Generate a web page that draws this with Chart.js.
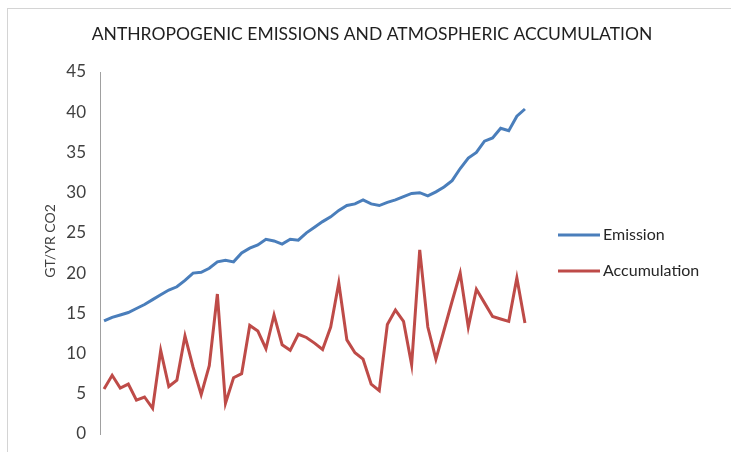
<!DOCTYPE html>
<html>
<head>
<meta charset="utf-8">
<title>Anthropogenic emissions and atmospheric accumulation</title>
<script src="https://cdn.jsdelivr.net/npm/chart.js@4"></script>
<style>
    html, body { margin: 0; padding: 0; background: #fff; }
    #wrap { position: relative; width: 731px; height: 452px; overflow: hidden; }
    #frame {
        position: absolute; left: 7px; top: 8px; width: 800px; height: 500px;
        border-left: 1px solid #d4d4d4; border-top: 1px solid #d4d4d4;
    }
    #chart { position: absolute; left: 0; top: 0; }
</style>
</head>
<body>
<div id="wrap">
    <div id="frame"></div>
    <canvas id="chart" width="731" height="452"></canvas>
</div>
<script>
// Chart data
const years = [
    1960, 1961, 1962, 1963, 1964, 1965, 1966, 1967, 1968, 1969,
    1970, 1971, 1972, 1973, 1974, 1975, 1976, 1977, 1978, 1979,
    1980, 1981, 1982, 1983, 1984, 1985, 1986, 1987, 1988, 1989,
    1990, 1991, 1992, 1993, 1994, 1995, 1996, 1997, 1998, 1999,
    2000, 2001, 2002, 2003, 2004, 2005, 2006, 2007, 2008, 2009,
    2010, 2011, 2012
];

const emission = [
    14.05, 14.5, 14.8, 15.1, 15.6, 16.1, 16.7, 17.3, 17.9, 18.3,
    19.1, 20.0, 20.1, 20.6, 21.4, 21.6, 21.4, 22.5, 23.1, 23.5,
    24.2, 24.0, 23.6, 24.2, 24.1, 25.0, 25.7, 26.4, 27.0, 27.8,
    28.4, 28.6, 29.1, 28.6, 28.4, 28.8, 29.1, 29.5, 29.9, 30.0,
    29.6, 30.1, 30.7, 31.5, 33.0, 34.3, 35.0, 36.4, 36.8, 38.0,
    37.7, 39.5, 40.4
];

const accumulation = [
    5.6, 7.3, 5.7, 6.2, 4.2, 4.6, 3.2, 10.4, 5.9, 6.7,
    12.2, 8.3, 4.9, 8.5, 17.4, 3.8, 7.0, 7.5, 13.5, 12.8,
    10.6, 14.8, 11.1, 10.4, 12.4, 12.0, 11.3, 10.5, 13.3, 18.8,
    11.7, 10.1, 9.3, 6.2, 5.4, 13.6, 15.4, 14.0, 8.6, 22.9,
    13.3, 9.3, 12.9, 16.5, 20.0, 13.3, 18.0, 16.3, 14.6, 14.3,
    14.0, 19.4, 13.8
];

const yTicks = [0, 5, 10, 15, 20, 25, 30, 35, 40, 45];

const FONT = 'Lato';
const TEXT = '#262626';

// legend and axis title, drawn next to the plot like the Excel original
const sideTextPlugin = {
    id: 'sideText',
    afterDraw: function(chart) {
        const ctx = chart.ctx;
        const area = chart.chartArea;
        const midY = (area.top + area.bottom) / 2;

        ctx.save();
        // axis title
        ctx.font = '14px ' + FONT;
        ctx.fillStyle = '#404040';
        ctx.textAlign = 'center';
        ctx.textBaseline = 'middle';
        ctx.translate(50, midY - 12);
        ctx.rotate(-Math.PI / 2);
        ctx.fillText('GT/YR CO2', 0, 0);
        ctx.restore();

        // legend
        ctx.save();
        ctx.font = '16px ' + FONT;
        ctx.textAlign = 'left';
        ctx.textBaseline = 'middle';
        const x0 = area.right + 29;
        chart.data.datasets.forEach(function(ds, i) {
            const y = midY - 18 + i * 36;
            ctx.strokeStyle = ds.borderColor;
            ctx.lineWidth = ds.borderWidth;
            ctx.beginPath();
            ctx.moveTo(x0, y);
            ctx.lineTo(x0 + 42, y);
            ctx.stroke();
            ctx.fillStyle = TEXT;
            ctx.fillText(ds.label, x0 + 45, y);
        });
        ctx.restore();
    }
};

new Chart(document.getElementById('chart'), {
    type: 'line',
    data: {
        labels: years,
        datasets: [{
            label: 'Emission',
            data: emission,
            borderColor: '#4a7ebb',
            backgroundColor: '#4a7ebb',
            borderWidth: 3,
            pointRadius: 0,
            tension: 0
        }, {
            label: 'Accumulation',
            data: accumulation,
            borderColor: '#be4b48',
            backgroundColor: '#be4b48',
            borderWidth: 3,
            pointRadius: 0,
            tension: 0
        }]
    },
    options: {
        responsive: false,
        animation: false,
        layout: {
            padding: { left: 13, right: 0, top: 0, bottom: 18 }
        },
        scales: {
            x: {
                type: 'category',
                offset: true,
                display: false
            },
            y: {
                min: 0,
                max: 45,
                afterBuildTicks: function(scale) {
                    scale.ticks = yTicks.map(v => ({ value: v }));
                },
                afterFit: function(scale) {
                    scale.width = 87;
                },
                grid: {
                    display: true,
                    drawOnChartArea: false,
                    drawTicks: true,
                    tickLength: 11,
                    tickColor: 'rgba(0,0,0,0)'
                },
                border: { display: true, color: '#a0a0a0', width: 1 },
                ticks: {
                    padding: 3,
                    color: '#404040',
                    font: { family: FONT, size: 17 }
                }
            },
            // empty room on the right for the legend
            legendRoom: {
                type: 'linear',
                position: 'right',
                display: true,
                grid: { display: false },
                border: { display: false },
                ticks: { display: false },
                afterFit: function(scale) {
                    scale.width = 202;
                }
            }
        },
        plugins: {
            title: {
                display: true,
                text: 'ANTHROPOGENIC EMISSIONS AND ATMOSPHERIC ACCUMULATION',
                color: '#1f1f1f',
                font: { family: FONT, size: 17.5, weight: 'normal' },
                padding: { top: 23.5, bottom: 27.5 }
            },
            legend: { display: false },
            tooltip: { enabled: false }
        }
    },
    plugins: [sideTextPlugin]
});
</script>
</body>
</html>
